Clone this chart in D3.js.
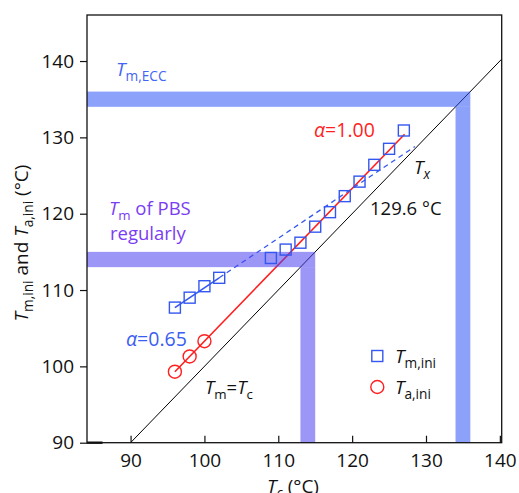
<!DOCTYPE html>
<meta charset="utf-8">
<script src="https://d3js.org/d3.v7.min.js"></script>
<style>
  body { margin: 0; background: #fff; }
  text { font-family: "Open Sans", sans-serif; }
</style>
<svg id="chart" width="519" height="493"></svg>
<script>
// data
const tcSq  = [96, 98, 100, 102, 109, 111, 113, 115, 117, 119, 121, 123, 125, 127];
const tmIni = [107.7, 109.0, 110.5, 111.6, 114.2, 115.3, 116.2, 118.3, 120.2, 122.3, 124.2, 126.4, 128.5, 130.9];
const tcCi  = [96, 98, 100];
const taIni = [99.3, 101.3, 103.3];

const redFit    = [[96, 99.3], [127.1, 130.4]];      // alpha = 1.00
const blueFit   = [[96, 107.7], [102, 111.6]];       // alpha = 0.65
const blueDash  = [[102, 111.6], [128.5, 128.8]];
const diagonal  = [[90, 90], [140.25, 140.25]];      // Tm = Tc

const eccBand = [134, 136];
const pbsBand = [113, 115];

const xTicks = [90, 100, 110, 120, 130, 140];
const yTicks = [90, 100, 110, 120, 130, 140];

const svg = d3.select("#chart");
const x = d3.scaleLinear().domain([84.1, 140.25]).range([87, 501.7]);
const y = d3.scaleLinear().domain([90, 146.03]).range([442.7, 15]);

const BLUE = "#3357f0", RED = "#ff1f1f";

// lines
const line = d3.line().x(d => x(d[0])).y(d => y(d[1]));
svg.append("path").attr("d", line(diagonal)).attr("fill", "none")
  .attr("stroke", "#000").attr("stroke-width", 1);
svg.append("path").attr("d", line(redFit)).attr("fill", "none")
  .attr("stroke", RED).attr("stroke-width", 1.6);
svg.append("path").attr("d", line(blueFit)).attr("fill", "none")
  .attr("stroke", BLUE).attr("stroke-width", 1.6);
svg.append("path").attr("d", line(blueDash)).attr("fill", "none")
  .attr("stroke", BLUE).attr("stroke-width", 1.3).attr("stroke-dasharray", "5,4");

// bands (drawn over the lines, semi transparent)
const x0 = x.domain()[0];
function band(b, color) {
  svg.append("rect")
    .attr("x", x(x0)).attr("y", y(b[1]))
    .attr("width", x(b[1]) - x(x0)).attr("height", y(b[0]) - y(b[1]))
    .attr("fill", color).attr("opacity", 0.55);
  svg.append("rect")
    .attr("x", x(b[0])).attr("y", y(b[0]))
    .attr("width", x(b[1]) - x(b[0])).attr("height", y(90) - y(b[0]))
    .attr("fill", color).attr("opacity", 0.55);
}
band(eccBand, "#2e55f6");
band(pbsBand, "#4a40f0");

// markers
const s = 11;
svg.selectAll(".sq").data(tcSq).join("rect")
  .attr("x", (d, i) => x(d) - s / 2).attr("y", (d, i) => y(tmIni[i]) - s / 2)
  .attr("width", s).attr("height", s)
  .attr("fill", "none").attr("stroke", BLUE).attr("stroke-width", 1.4);
svg.selectAll(".ci").data(tcCi).join("circle")
  .attr("cx", d => x(d)).attr("cy", (d, i) => y(taIni[i])).attr("r", 6.5)
  .attr("fill", "none").attr("stroke", RED).attr("stroke-width", 1.4);

// frame and axes
svg.append("rect").attr("x", 87).attr("y", 15)
  .attr("width", 501.7 - 87).attr("height", 442.7 - 15)
  .attr("fill", "none").attr("stroke", "#111").attr("stroke-width", 1.3);
svg.append("line").attr("x1", x(x0)).attr("x2", x(86.2))
  .attr("y1", y(90)).attr("y2", y(90)).attr("stroke", "#111").attr("stroke-width", 2.4);

const xAxis = svg.append("g").attr("transform", `translate(0,${y(90)})`)
  .call(d3.axisBottom(x).tickValues(xTicks).tickSizeInner(-7).tickSizeOuter(0).tickPadding(11));
const yAxis = svg.append("g").attr("transform", `translate(${x(x0)},0)`)
  .call(d3.axisLeft(y).tickValues(yTicks).tickSize(7).tickPadding(6));
[xAxis, yAxis].forEach(g => {
  g.select(".domain").remove();
  g.selectAll("line").attr("stroke", "#111").attr("stroke-width", 1.2);
  g.selectAll("text").attr("font-size", 19).attr("fill", "#111")
    .attr("font-family", "'Open Sans', sans-serif");
});

// text helper: parts = [[text, italic, sub]]
function label(px, py, parts, size, color, anchor) {
  const t = svg.append("text").attr("x", px).attr("y", py)
    .attr("font-size", size).attr("fill", color).attr("text-anchor", anchor || "start");
  parts.forEach(p => {
    const sp = t.append("tspan").text(p[0]);
    if (p[1]) sp.attr("font-style", "italic");
    if (p[2] === "sub") sp.attr("font-size", size * 0.72).attr("dy", size * 0.25);
    if (p[2] === "up") sp.attr("dy", -size * 0.25);
  });
  return t;
}

label(116, 76, [["T", 1], ["m,ECC", 0, "sub"]], 19, "#4265f5");
label(314, 137, [["α", 1], ["=1.00"]], 19.5, RED);
label(414, 174, [["T", 1], ["x", 1, "sub"]], 19, "#111");
label(370, 215, [["129.6 °C"]], 18.5, "#111");
label(109, 215, [["T", 1], ["m", 0, "sub"], [" of PBS", 0, "up"]], 18.5, "#7b3cf3");
label(110, 240, [["regularly"]], 18.5, "#7b3cf3");
label(126, 346, [["α", 1], ["=0.65"]], 19.5, "#3a5ef2");
label(205, 394, [["T", 1], ["m", 0, "sub"], ["=", 0, "up"], ["T", 1], ["c", 0, "sub"]], 18.5, "#111");

// legend
svg.append("rect").attr("x", 377.3 - s / 2).attr("y", 356 - s / 2).attr("width", s).attr("height", s)
  .attr("fill", "none").attr("stroke", BLUE).attr("stroke-width", 1.4);
svg.append("circle").attr("cx", 377.3).attr("cy", 387).attr("r", 6.5)
  .attr("fill", "none").attr("stroke", RED).attr("stroke-width", 1.4);
label(395, 363, [["T", 1], ["m,ini", 0, "sub"]], 19, "#111");
label(395, 394, [["T", 1], ["a,ini", 0, "sub"]], 19, "#111");

// axis titles
label(293, 493, [["T", 1], ["c", 1, "sub"], [" (°C)", 0, "up"]], 19, "#111", "middle");
const yl = label(0, 0, [["T", 1], ["m,ini", 0, "sub"], [" and ", 0, "up"], ["T", 1], ["a,ini", 0, "sub"], [" (°C)", 0, "up"]], 19, "#111", "middle");
yl.attr("transform", "translate(28,243) rotate(-90)");
</script>
